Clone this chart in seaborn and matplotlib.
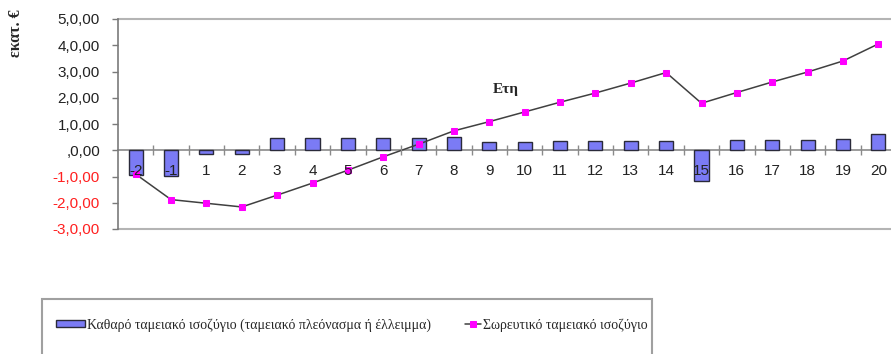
import matplotlib
matplotlib.use("Agg")
import matplotlib.pyplot as plt
import matplotlib.patches as mpatches
from matplotlib.legend_handler import HandlerLine2D
import numpy as np
import pandas as pd
import seaborn as sns

# Years of the project (two construction years, then 20 operating years)
years = ["-2", "-1", "1", "2", "3", "4", "5", "6", "7", "8", "9", "10",
         "11", "12", "13", "14", "15", "16", "17", "18", "19", "20"]
# Net cash balance per year (million €)
net_balance = [-0.95, -0.98, -0.15, -0.15, 0.45, 0.47, 0.47, 0.47, 0.47, 0.50,
               0.33, 0.33, 0.36, 0.37, 0.37, 0.37, -1.17, 0.40, 0.40, 0.40,
               0.43, 0.63]
# Cumulative cash balance (million €)
cumulative = [-0.91, -1.88, -2.02, -2.16, -1.71, -1.25, -0.76, -0.25, 0.23, 0.74,
              1.09, 1.46, 1.83, 2.18, 2.56, 2.96, 1.79, 2.20, 2.60, 2.98,
              3.40, 4.05]
y_ticks = [5, 4, 3, 2, 1, 0, -1, -2, -3]
y_tick_labels = ["5,0,00", "4,0,00", "3,0,00", "2,0,00", "1,0,00", ",0,00",
                 "-1,0,00", "-2,0,00", "-3,0,00"]

label_net = "Καθαρό ταμειακό ισοζύγιο (ταμειακό πλεόνασμα ή έλλειμμα)"
label_cum = "Σωρευτικό ταμειακό ισοζύγιο"

df = pd.DataFrame({"year": years, "net": net_balance, "cum": cumulative,
                   "pos": np.arange(len(years))})


class ShortLineHandler(HandlerLine2D):
    """Legend line drawn shorter than the bar swatch, right-aligned."""
    frac = 0.55

    def create_artists(self, legend, orig_handle, xdescent, ydescent,
                       width, height, fontsize, trans):
        new_w = width * self.frac
        return super().create_artists(legend, orig_handle,
                                      xdescent - (width - new_w), ydescent,
                                      new_w, height, fontsize, trans)


sns.set_theme(style="white")
plt.rcParams["font.family"] = ["Liberation Sans", "DejaVu Sans"]

W, H = 891, 354
fig = plt.figure(figsize=(W / 100, H / 100), dpi=100)
ax = fig.add_axes([118 / W, 1 - 229 / H, (896 - 118) / W, (229 - 19) / H])

sns.barplot(data=df, x="year", y="net", order=years, ax=ax, width=0.4,
            color="#7b7bf5", saturation=1, edgecolor="#2a2a3a", linewidth=1,
            label=label_net)
sns.lineplot(data=df, x="pos", y="cum", ax=ax, color="#404040", linewidth=1.1,
             marker="s", markersize=5, markerfacecolor="#ff00ff",
             markeredgecolor="#ff00ff", label=label_cum)

ax.set_axisbelow(False)
ax.set_xlim(-0.5, 21.5)
ax.set_ylim(-3, 5)
ax.set_xlabel("")
ax.set_ylabel("")

# Frame: left axis, category axis on zero, light top and bottom borders
for side in ("top", "right"):
    ax.spines[side].set_visible(False)
ax.spines["left"].set_color("#7a7a7a")
ax.spines["left"].set_linewidth(1.2)
ax.spines["bottom"].set_position(("data", 0))
ax.spines["bottom"].set_color("#8a8a8a")
ax.spines["bottom"].set_linewidth(1.2)
ax.spines["bottom"].set_zorder(0.8)
ax.axhline(5, color="#b4b4b4", linewidth=1.5, clip_on=False)
ax.axhline(-3, color="#b4b4b4", linewidth=1.5, clip_on=False)

ax.set_yticks(y_ticks)
ax.set_yticklabels(y_tick_labels)
for t, v in zip(ax.get_yticklabels(), y_ticks):
    t.set_color("#ff2020" if v < 0 else "#222222")
ax.tick_params(axis="y", direction="out", length=4, width=1, color="#7a7a7a",
               labelsize=11, left=True, pad=9)

ax.set_xticks(np.arange(len(years)))
ax.set_xticklabels(years)
ax.set_xticks(np.arange(len(years) - 1) + 0.5, minor=True)
ax.tick_params(axis="x", which="major", length=0, labelsize=11, pad=10,
               labelcolor="#222222")
ax.tick_params(axis="x", which="minor", direction="inout", length=7, width=1,
               color="#8a8a8a", bottom=True)

if ax.legend_:
    ax.legend_.remove()

fig.text(16 / W, 1 - 33 / H, "εκατ. €", rotation=90, ha="center", va="center",
         family=["Liberation Serif"], fontweight="bold", fontsize=11.5)
fig.text(506 / W, 1 - 90 / H, "Ετη", ha="center", va="center",
         family=["Liberation Serif"], fontweight="bold", fontsize=11)

# Legend panel below the chart
fig.patches.append(mpatches.Rectangle((41.7 / W, -0.1), (652 - 41.7) / W,
                                      (H - 299) / H + 0.1,
                                      transform=fig.transFigure, fill=False,
                                      edgecolor="#a0a0a0", linewidth=1.5))
handles, labels = ax.get_legend_handles_labels()
order = [labels.index(label_net), labels.index(label_cum)]
handles = [handles[i] for i in order]
labels = [labels[i] for i in order]
line_handle = handles[1]
fig.legend(handles, labels, loc="center left",
           bbox_to_anchor=(56 / W, 1 - 325 / H), ncol=2, frameon=False,
           prop={"family": "Liberation Serif", "size": 10},
           handlelength=2.1, handleheight=0.45, handletextpad=0.15,
           columnspacing=1.5, borderpad=0, borderaxespad=0,
           handler_map={line_handle: ShortLineHandler()})

fig.savefig("out.png", dpi=100)
